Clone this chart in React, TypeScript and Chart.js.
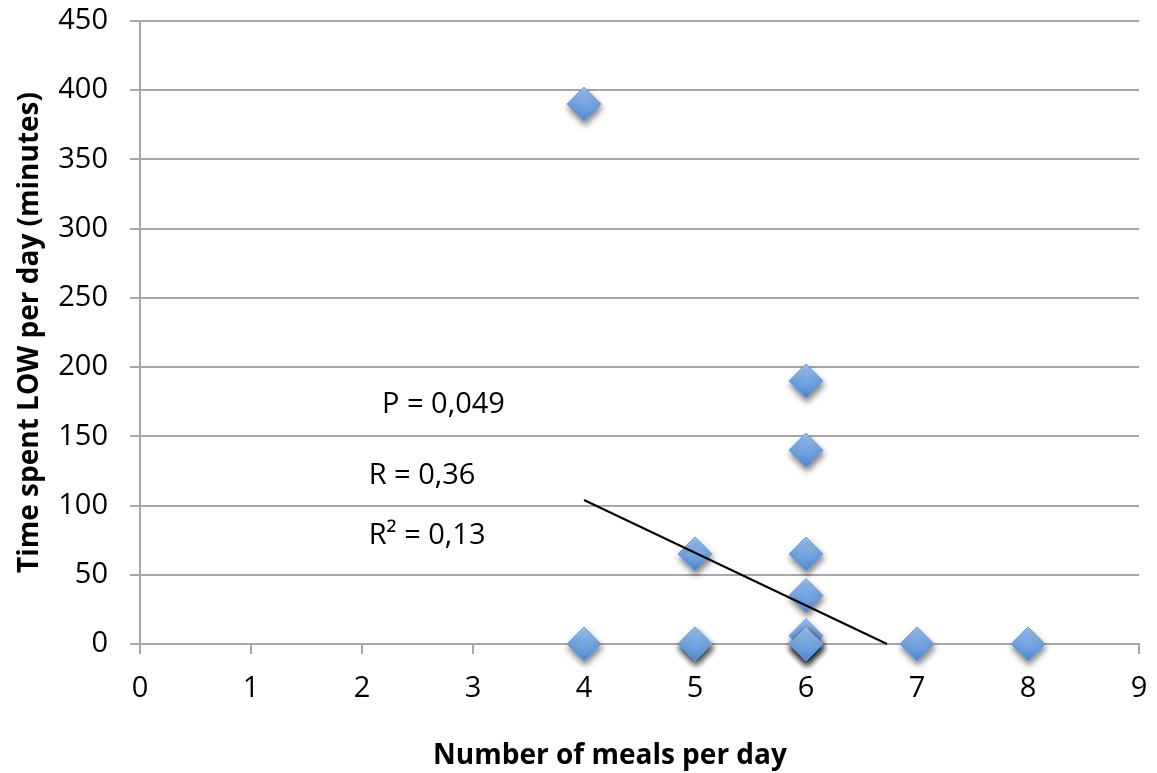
import React, { useEffect, useRef } from "react";
import { Chart, registerables } from "chart.js";

Chart.register(...registerables);

const mealsPerDay = [4, 4, 5, 5, 5, 6, 6, 6, 6, 6, 6, 6, 6, 7, 8];
const minutesLow = [390, 0, 65, 0, 0, 190, 140, 65, 35, 6, 0, 0, 0, 0, 0];
const trendX = [4, 6.73];
const trendY = [104, 0];
const xTicks = [0, 1, 2, 3, 4, 5, 6, 7, 8, 9];
const yTicks = [0, 50, 100, 150, 200, 250, 300, 350, 400, 450];
const statLabels = ["P = 0,049", "R = 0,36", "R\u00B2 = 0,13"];
const statX = [2.18, 2.06, 2.06];
const statY = [172.5, 121.5, 78];
const xTitle = "Number of meals per day";
const yTitle = "Time spent LOW per day (minutes)";

const FONT = "'Open Sans', 'DejaVu Sans', sans-serif";
const GRID = "#a8a8a8";

export default function App() {
  const ref = useRef<HTMLCanvasElement | null>(null);

  useEffect(() => {
    const canvas = ref.current;
    if (!canvas) return;

    const shadowPlugin = {
      id: "markerShadow",
      beforeDatasetDraw(chart: any, args: any) {
        if (args.index === 1) {
          const ctx = chart.ctx;
          ctx.save();
          ctx.shadowColor = "rgba(0,0,0,0.5)";
          ctx.shadowBlur = 6;
          ctx.shadowOffsetX = 1;
          ctx.shadowOffsetY = 4;
        }
      },
      afterDatasetDraw(chart: any, args: any) {
        if (args.index === 1) chart.ctx.restore();
      },
    };

    const textPlugin = {
      id: "texts",
      afterDraw(chart: any) {
        const ctx = chart.ctx;
        const xs = chart.scales.x;
        const ys = chart.scales.y;
        ctx.save();
        ctx.fillStyle = "#000";
        ctx.font = `29px ${FONT}`;
        ctx.textAlign = "left";
        ctx.textBaseline = "middle";
        statLabels.forEach((t, i) => {
          ctx.fillText(t, xs.getPixelForValue(statX[i]), ys.getPixelForValue(statY[i]));
        });
        ctx.font = `bold 28px ${FONT}`;
        ctx.textAlign = "center";
        ctx.fillText(xTitle, 610, 756);
        ctx.restore();
      },
    };

    const pointFill = (c: any) => {
      const chart = c.chart;
      const el = c.element;
      if (!el || el.y == null) return "#6fa3e2";
      const g = chart.ctx.createLinearGradient(0, el.y - 17, 0, el.y + 17);
      g.addColorStop(0, "#9cc4f0");
      g.addColorStop(1, "#4f89d3");
      return g;
    };

    const chart = new Chart(canvas, {
      type: "scatter",
      data: {
        datasets: [
          {
            type: "line",
            label: "trend",
            data: trendX.map((x, i) => ({ x, y: trendY[i] })),
            borderColor: "#000",
            borderWidth: 2,
            pointRadius: 0,
            order: 0,
            clip: false,
          } as any,
          {
            label: "meals",
            data: mealsPerDay.map((x, i) => ({ x, y: minutesLow[i] })),
            pointStyle: "rectRot",
            pointRadius: 17,
            pointHoverRadius: 17,
            backgroundColor: pointFill,
            borderColor: "#6a9ddd",
            borderWidth: 1,
            order: 1,
            clip: false,
          },
        ],
      },
      options: {
        animation: false,
        responsive: false,
        maintainAspectRatio: false,
        layout: { padding: { top: 21, right: 12, left: 0, bottom: 0 } },
        plugins: {
          legend: { display: false },
          tooltip: { enabled: false },
        },
        scales: {
          x: {
            type: "linear",
            min: 0,
            max: 9,
            afterBuildTicks: (s: any) => {
              s.ticks = xTicks.map((v) => ({ value: v }));
            },
            afterFit: (s: any) => {
              s.height = 129;
              s.paddingLeft = 0;
              s.paddingRight = 0;
            },
            grid: {
              drawOnChartArea: false,
              drawTicks: true,
              tickLength: 10,
              color: GRID,
              lineWidth: 2,
            },
            border: { display: true, color: GRID, width: 2 },
            ticks: {
              color: "#000",
              font: { family: FONT, size: 29 },
              padding: 17,
              maxRotation: 0,
            },
            title: { display: false },
          },
          y: {
            type: "linear",
            min: 0,
            max: 450,
            afterBuildTicks: (s: any) => {
              s.ticks = yTicks.map((v) => ({ value: v }));
            },
            afterFit: (s: any) => {
              s.width = 140;
              s.paddingTop = 0;
              s.paddingBottom = 0;
            },
            grid: {
              drawTicks: true,
              tickLength: 10,
              color: GRID,
              lineWidth: 2,
            },
            border: { display: true, color: GRID, width: 2 },
            ticks: {
              color: "#000",
              font: { family: FONT, size: 29 },
              padding: 22,
            },
            title: {
              display: true,
              text: yTitle,
              color: "#000",
              font: { family: FONT, size: 28, weight: "bold" },
              padding: { top: 13, bottom: 0 },
            },
          },
        },
      },
      plugins: [shadowPlugin, textPlugin],
    } as any);

    return () => chart.destroy();
  }, []);

  return (
    <div style={{ position: "fixed", left: 0, top: 0, width: 1157, height: 773, background: "#fff" }}>
      <canvas ref={ref} width={1157} height={773} style={{ width: 1157, height: 773, display: "block" }} />
    </div>
  );
}
